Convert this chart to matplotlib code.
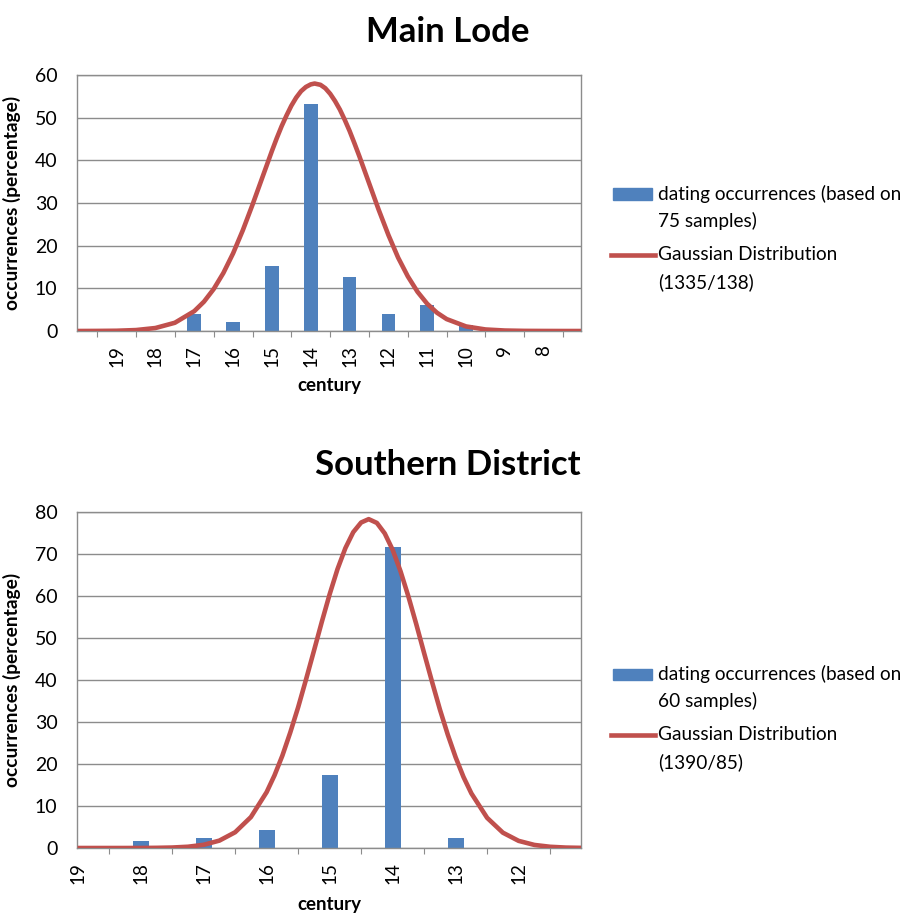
import matplotlib
matplotlib.use("Agg")
import matplotlib.pyplot as plt
from matplotlib.patches import Rectangle
from matplotlib.lines import Line2D

plt.rcParams['font.family'] = ['Lato', 'DejaVu Sans']

# ---------------- data ----------------
# Main Lode
top_centuries = [17, 16, 15, 14, 13, 12, 11, 10]
top_values = [4.0, 2.0, 15.3, 53.3, 12.7, 4.0, 6.0, 1.3]
top_labels = ['19', '18', '17', '16', '15', '14', '13', '12', '11', '10', '9', '8']
top_curve_years = [1950, 1900, 1850, 1800, 1750, 1700, 1650, 1625, 1600, 1575, 1550, 1525,
                   1500, 1475, 1450, 1437.5, 1425, 1412.5, 1400, 1387.5, 1375, 1362.5, 1350,
                   1340, 1325, 1312.5, 1300, 1287.5, 1275, 1262.5, 1250, 1237.5, 1225, 1200,
                   1175, 1150, 1125, 1100, 1075, 1050, 1025, 1000, 950, 900, 850, 800, 750,
                   700, 650]
top_curve_values = [0.0, 0.02, 0.06, 0.22, 0.70, 1.93, 4.65, 6.87, 9.83, 13.6, 18.2, 23.6,
                    29.6, 35.9, 42.2, 45.2, 48.0, 50.5, 52.8, 54.7, 56.2, 57.2, 57.8,
                    58.0, 57.7, 56.9, 55.6, 53.9, 51.9, 49.5, 46.9, 44.0, 41.0, 34.7,
                    28.4, 22.5, 17.2, 12.8, 9.18, 6.37, 4.29, 2.79, 1.07, 0.36, 0.11, 0.03, 0.01,
                    0.0, 0.0]
top_legend = [['dating occurrences (based on', '75 samples)'],
              ['Gaussian Distribution', '(1335/138)']]

# Southern District
bot_centuries = [18, 17, 16, 15, 14, 13]
bot_values = [1.7, 2.5, 4.2, 17.5, 71.7, 2.5]
bot_labels = ['19', '18', '17', '16', '15', '14', '13', '12']
bot_curve_years = [1850, 1825, 1800, 1775, 1750, 1725, 1700, 1675, 1650, 1625, 1600, 1575,
                   1550, 1537.5, 1525, 1512.5, 1500, 1487.5, 1475, 1462.5, 1450, 1437.5, 1425,
                   1412.5, 1400, 1388, 1375, 1362.5, 1350, 1337.5, 1325, 1312.5, 1300, 1287.5,
                   1275, 1262.5, 1250, 1237.5, 1225, 1200, 1175, 1150, 1125, 1100, 1075, 1050]
bot_curve_values = [0.0, 0.0, 0.0, 0.0, 0.01, 0.04, 0.11, 0.30, 0.76, 1.76, 3.75, 7.36,
                    13.3, 17.3, 22.0, 27.5, 33.5, 40.1, 46.9, 53.8, 60.4, 66.4, 71.4,
                    75.2, 77.5, 78.3, 77.4, 74.9, 71.0, 65.9, 59.9, 53.3, 46.4, 39.6,
                    33.0, 27.0, 21.6, 16.9, 13.0, 7.18, 3.65, 1.70, 0.73, 0.29, 0.10, 0.03]
bot_legend = [['dating occurrences (based on', '60 samples)'],
              ['Gaussian Distribution', '(1390/85)']]

BLUE = '#4F81BD'
RED = '#C0504D'
GRID = '#8C8C8C'
LW = 3.3

W, H = 905, 915
fig = plt.figure(figsize=(W / 100, H / 100), dpi=100)


def fx(x):
    return x / W


def fy(y):
    return 1 - y / H


def px_axes(left, top, right, bottom):
    return fig.add_axes([left / W, 1 - bottom / H, (right - left) / W, (bottom - top) / H])


def draw_legend(items, y0):
    # y0: pixel y of the first legend line (bar key)
    fig.add_artist(Rectangle((fx(613), fy(y0 + 5.5)), fx(652) - fx(613), 11 / H,
                             transform=fig.transFigure, color=BLUE))
    y1 = y0 + 61
    fig.add_artist(Line2D([fx(611), fx(655)], [fy(y1), fy(y1)],
                          transform=fig.transFigure, color=RED, lw=LW))
    for (l1, l2), yy in zip(items, [y0, y1]):
        fig.text(fx(658), fy(yy), l1, ha='left', va='center', fontsize=13.7)
        fig.text(fx(658), fy(yy + 27), l2, ha='left', va='center', fontsize=13.7)


def style(ax, xlim, ylim, ystep, bounds, centers, labels, bar_x, bar_v, bar_w,
          cx, cy, xlabel_y):
    ax.bar(bar_x, bar_v, width=bar_w, color=BLUE, zorder=2)
    ax.plot(cx, cy, color=RED, lw=LW, zorder=3, solid_joinstyle='round',
            solid_capstyle='butt')
    ax.set_xlim(*xlim)
    ax.set_ylim(*ylim)
    ax.set_yticks(range(ylim[0], ylim[1] + 1, ystep))
    ax.yaxis.grid(True, color=GRID, lw=1.0, zorder=0)
    ax.set_axisbelow(True)
    ax.set_xticks(bounds)
    ax.set_xticklabels([])
    ax.set_xticks(centers, minor=True)
    ax.set_xticklabels(labels, minor=True, rotation=90, fontsize=13.5)
    ax.tick_params(axis='x', which='major', length=4, color=GRID, direction='out')
    ax.tick_params(axis='x', which='minor', length=0, pad=10)
    ax.tick_params(axis='y', length=0, pad=14, labelsize=14)
    for s in ax.spines.values():
        s.set_color(GRID)
        s.set_linewidth(1.0)
    ax.set_ylabel('occurrences (percentage)', fontsize=13.8, fontweight='bold')
    ax.yaxis.set_label_coords(-0.112, 0.5)
    ax.set_xlabel('century', fontsize=13.5, fontweight='bold')
    ax.xaxis.set_label_coords(0.5, xlabel_y)


# Top chart
ax1 = px_axes(77, 75, 581, 331)
top_bounds = [1900 - 100 * i for i in range(13)]
top_centers = [1850 - 100 * i for i in range(12)]
style(ax1, (1952, 654), (0, 60), 10, top_bounds, top_centers, top_labels,
      [c * 100 - 50 for c in top_centuries], top_values, 35,
      top_curve_years, top_curve_values, -0.181)
draw_legend(top_legend, 194)

# Bottom chart
ax2 = px_axes(77, 512, 581, 848)
bot_bounds = [1800 - 100 * i for i in range(8)]
bot_centers = [1850 - 100 * i for i in range(8)]
style(ax2, (1851, 1051), (0, 80), 10, bot_bounds, bot_centers, bot_labels,
      [c * 100 - 50 for c in bot_centuries], bot_values, 25,
      bot_curve_years, bot_curve_values, -0.143)
draw_legend(bot_legend, 674)

fig.text(448 / W, 1 - 32 / H, 'Main Lode', ha='center', va='center',
         fontsize=25, fontweight='bold')
fig.text(448 / W, 1 - 465 / H, 'Southern District', ha='center', va='center',
         fontsize=25, fontweight='bold')

fig.savefig('out.png', dpi=100, facecolor='white')
